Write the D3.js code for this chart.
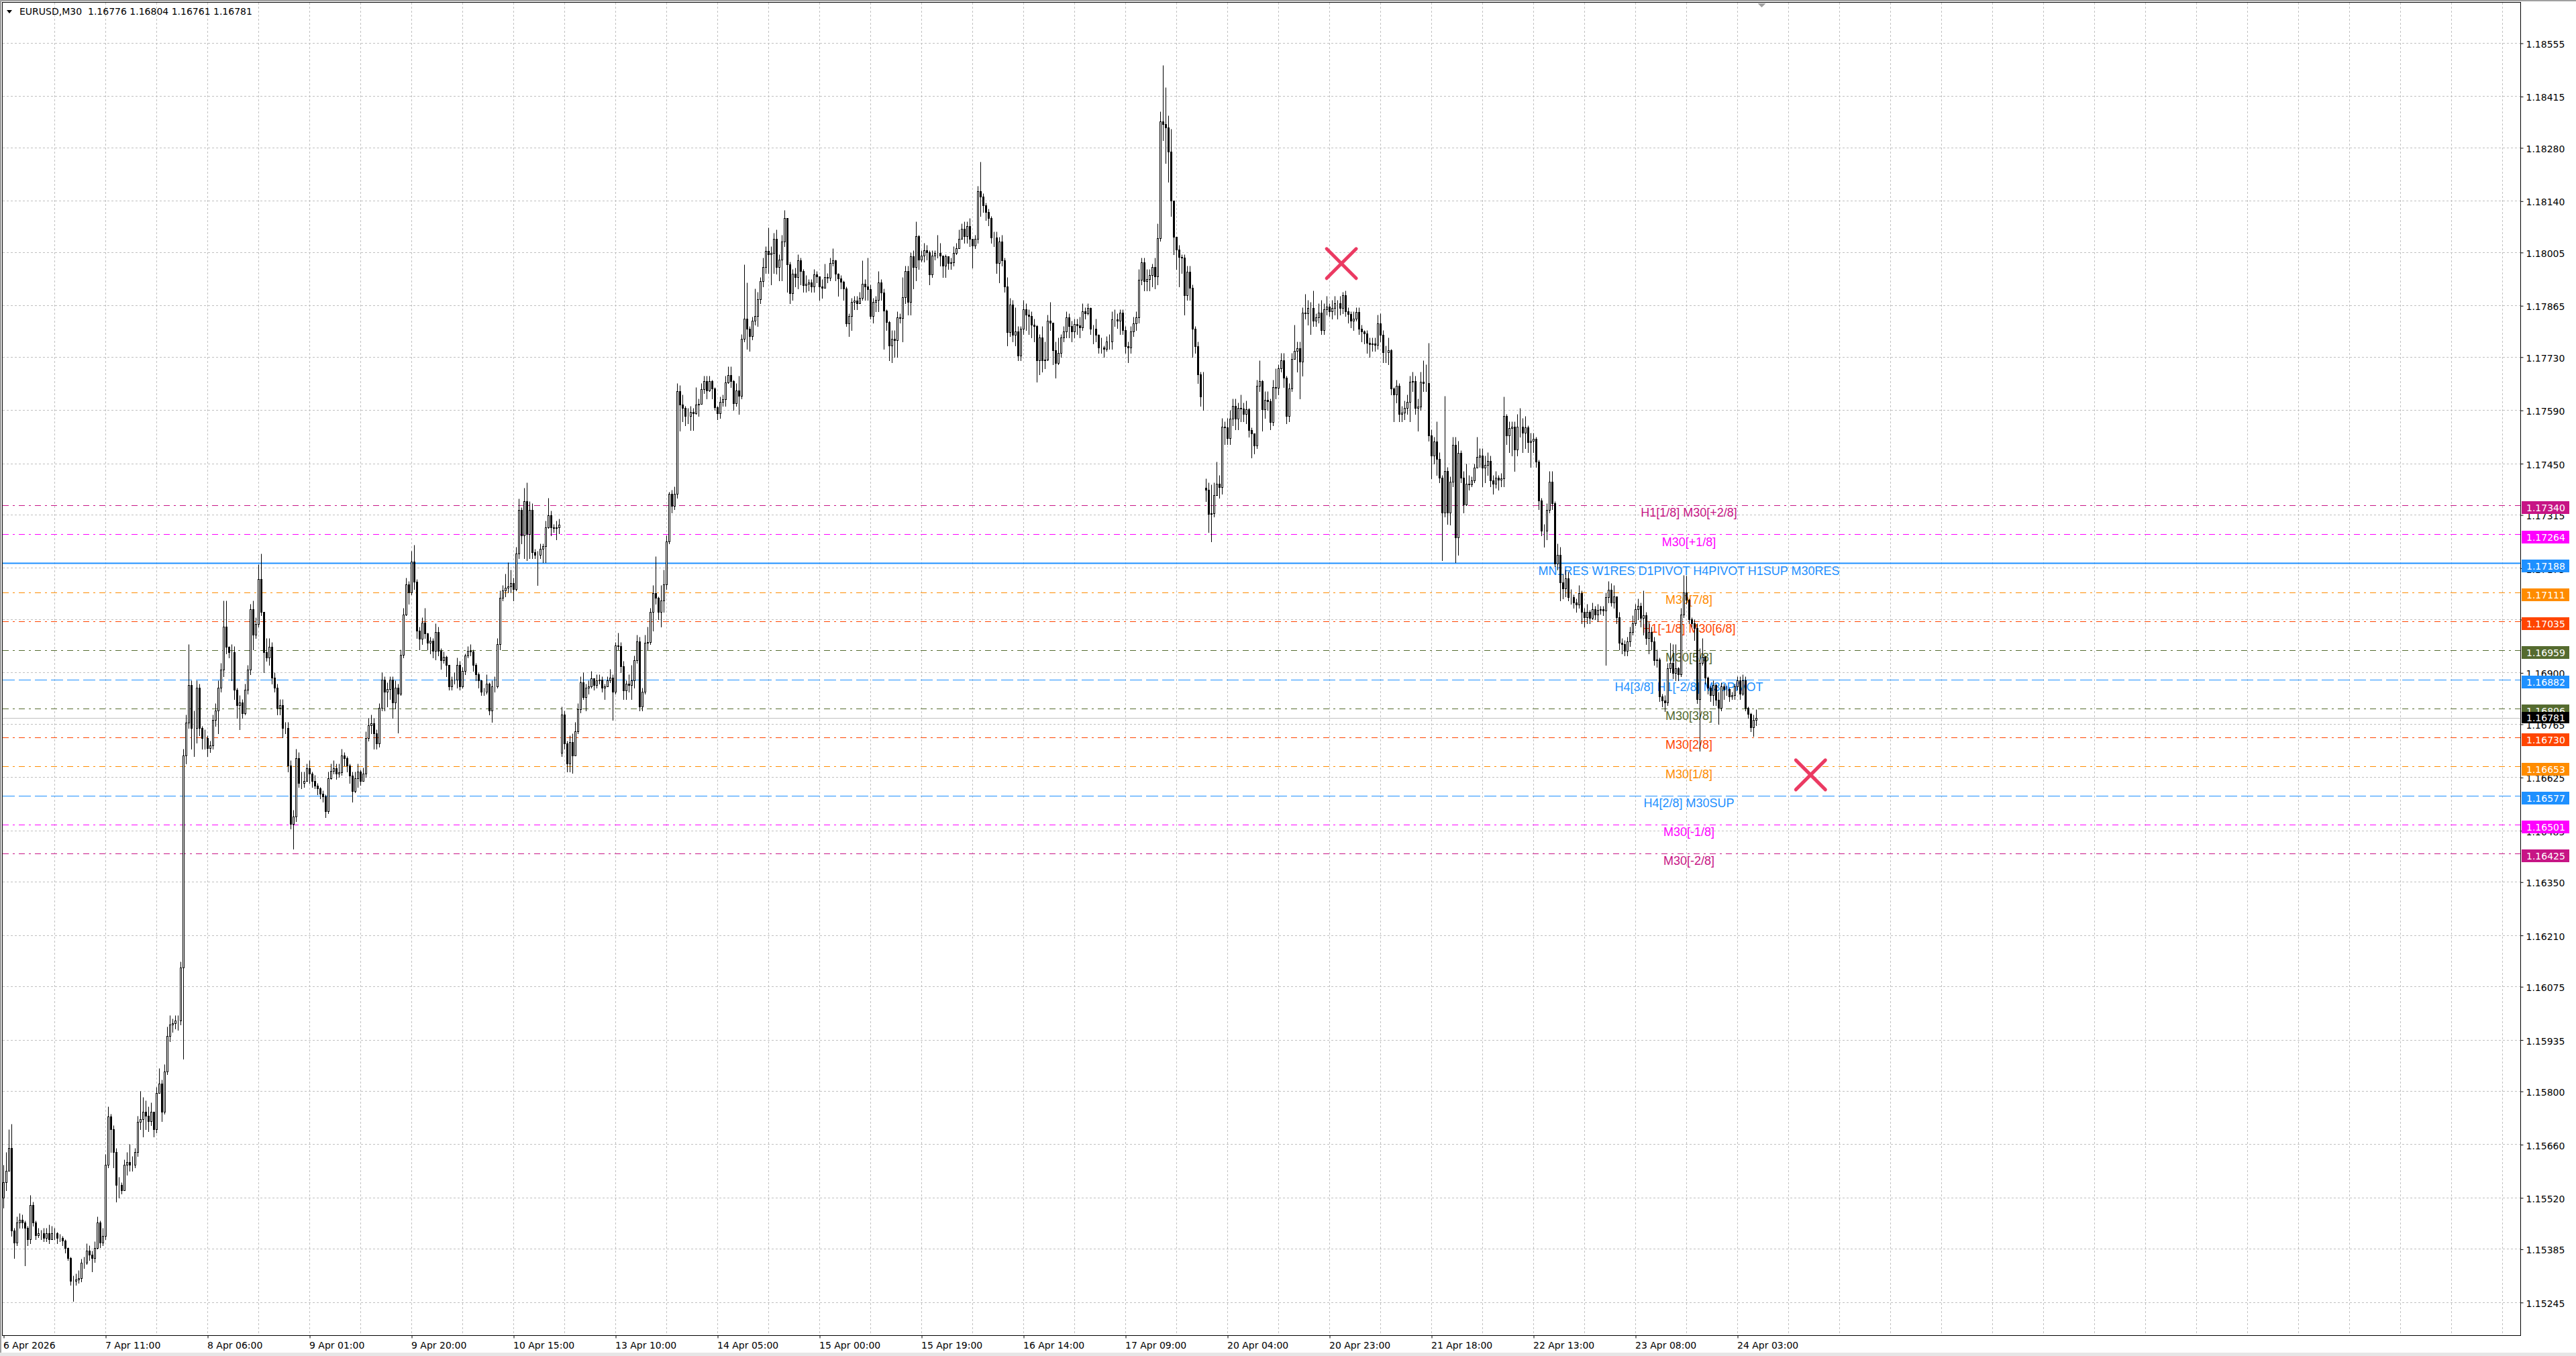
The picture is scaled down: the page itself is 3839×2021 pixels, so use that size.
<!DOCTYPE html>
<html>
<head>
<meta charset="utf-8">
<script src="https://cdn.jsdelivr.net/npm/d3@7"></script>
<style>
  html, body { margin: 0; padding: 0; background: #fff; }
  svg { display: block; }
  .axis text { font-family: "DejaVu Sans", sans-serif; font-size: 14px; fill: #000; }
  .axis line { stroke: #000; }
</style>
</head>
<body>
<svg id="chart"></svg>
<script>
// ---- data -------------------------------------------------------------
const symbol = "EURUSD,M30";
const lastQuote = ["1.16776", "1.16804", "1.16761", "1.16781"];

// M30 bars from 6 Apr 16:00, prices as points above 1.15000
const BASE = 1.15;
const closePts = [
  560,590,650,434,401,454,461,454,441,410,500,454,421,427,427,414,427,410,427,
  427,414,414,407,388,361,301,301,305,308,348,348,381,370,361,388,454,401,420,
  606,733,700,640,553,553,540,606,613,606,606,640,719,726,745,735,720,745,700,
  795,819,746,852,945,975,978,985,985,1124,1682,1768,1867,1755,1755,1861,1755,1728,1728,
  1702,1708,1775,1801,1861,1907,2020,1967,1954,1954,1854,1814,1821,1794,1854,1907,2067,2000,2027,
  2146,2060,1954,1940,1967,1887,1861,1808,1814,1755,1755,1655,1502,1522,1675,1609,1609,1615,1648,
  1635,1615,1602,1595,1582,1575,1536,1622,1642,1648,1635,1638,1682,1675,1655,1629,1589,1622,1640,
  1615,1635,1728,1761,1766,1740,1713,1808,1881,1850,1856,1881,1822,1860,1845,1947,2052,2132,2111,
  2191,2139,2010,1989,2031,2003,1979,1984,1958,2007,1958,1933,1942,1920,1864,1881,1882,1920,1864,
  1905,1944,1958,1955,1920,1895,1880,1850,1850,1870,1801,1863,1864,1975,2097,2115,2123,2127,2135,
  2120,2212,2327,2261,2351,2264,2327,2216,2210,2209,2226,2232,2282,2313,2282,2280,2282,2289,1790,
  1713,1661,1717,1682,1745,1804,1874,1836,1860,1864,1884,1867,1880,1882,1860,1864,1880,1887,1850,
  1972,1970,1916,1853,1871,1867,1880,1933,1982,1811,1849,1979,1980,2059,2108,2097,2059,2090,2132,
  2244,2369,2338,2369,2639,2605,2595,2574,2575,2585,2582,2605,2606,2645,2666,2642,2666,2646,2598,
  2581,2612,2618,2662,2682,2666,2608,2642,2628,2777,2831,2804,2784,2824,2838,2882,2929,2966,3008,
  3000,3003,3040,2966,2986,3033,3094,2973,2898,2949,2939,2983,2956,2919,2922,2925,2915,2946,2942,
  2915,2912,2939,2938,2976,2983,2949,2936,2927,2909,2817,2838,2875,2878,2870,2885,2922,2914,2908,
  2838,2875,2880,2925,2899,2851,2821,2760,2777,2774,2834,2832,2886,2956,2875,2994,2966,3047,2986,
  2996,3010,3004,2947,2996,3003,3003,2996,2969,2994,2976,2979,3003,3016,3040,3067,3047,3074,3040,
  3023,3040,3165,3152,3128,3111,3094,3043,3043,2976,3033,2983,2915,2794,2868,2787,2797,2733,2804,
  2855,2841,2838,2814,2811,2720,2780,2720,2723,2824,2820,2747,2713,2740,2780,2797,2834,2810,2797,
  2816,2812,2808,2850,2845,2858,2804,2804,2788,2754,2754,2750,2771,2770,2829,2829,2825,2846,2800,
  2758,2754,2796,2817,2833,2933,2979,2929,2935,2944,2966,2941,3041,3349,3341,3333,3270,3141,3046,
  3012,2992,2991,2892,2954,2912,2804,2758,2684,2625,2625,2380,2317,2318,2367,2396,2388,2546,2544,
  2517,2567,2600,2567,2596,2593,2580,2592,2538,2529,2496,2654,2667,2592,2617,2613,2559,2650,2648,
  2700,2721,2675,2575,2646,2725,2746,2752,2717,2846,2845,2858,2858,2825,2833,2846,2800,2854,2862,
  2850,2858,2871,2871,2858,2892,2850,2842,2825,2831,2848,2804,2796,2792,2767,2763,2765,2761,2817,
  2788,2742,2742,2748,2646,2630,2654,2580,2583,2596,2612,2664,2666,2596,2599,2664,2660,2660,2523,
  2470,2507,2462,2413,2320,2430,2320,2401,2498,2256,2478,2413,2341,2397,2395,2405,2438,2466,2470,
  2438,2446,2456,2405,2396,2413,2406,2410,2575,2523,2543,2547,2486,2547,2547,2531,2544,2506,2510,
  2515,2454,2353,2272,2272,2328,2401,2345,2187,2209,2137,2121,2147,2098,2098,2085,2079,2108,2059,
  2046,2059,2043,2066,2053,2064,2066,2063,2098,2118,2084,2100,2046,1978,1974,1958,1981,2007,2030,
  2066,2075,2043,2050,1990,2007,1981,1932,1935,1837,1826,1821,1912,1925,1899,1912,1895,2053,2111,
  2092,2040,2030,2017,1831,1925,1942,1886,1860,1841,1867,1828,1808,1863,1857,1857,1837,1841,1863,
  1880,1844,1880,1808,1792,1756,1776,1781
];
const highPts = [
  606,640,700,713,440,470,480,475,460,445,527,510,460,440,435,440,440,450,445,
  440,430,425,420,410,390,365,315,320,330,360,365,400,395,380,405,470,460,440,
  635,760,740,710,650,575,560,620,640,660,630,650,735,800,785,775,760,770,745,
  810,860,830,870,970,1000,990,1000,1000,1140,1700,1790,1974,1880,1800,1880,1870,1760,1750,
  1735,1720,1790,1820,1880,1925,2090,2090,1970,1975,1970,1860,1840,1830,1870,1920,2080,2090,2045,
  2185,2213,2060,1990,1990,1980,1900,1870,1830,1830,1770,1770,1670,1540,1700,1690,1640,1640,1660,
  1670,1640,1630,1610,1600,1590,1580,1640,1660,1670,1660,1660,1700,1690,1680,1660,1640,1640,1660,
  1645,1650,1745,1780,1790,1780,1750,1820,1900,1890,1875,1890,1890,1880,1870,1960,2070,2150,2140,
  2220,2235,2145,2020,2045,2070,2005,1995,1990,2030,2020,1965,1955,1945,1910,1890,1900,1940,1930,
  1915,1950,1970,1975,1960,1925,1900,1880,1860,1895,1875,1880,1890,1990,2115,2130,2160,2190,2170,
  2150,2230,2358,2335,2385,2400,2350,2345,2225,2220,2240,2240,2300,2360,2325,2290,2300,2305,1810,
  1800,1720,1735,1740,1770,1820,1890,1900,1870,1880,1905,1885,1895,1895,1890,1870,1890,1910,1895,
  1980,2005,1980,1930,1880,1895,1920,1945,2000,1995,1860,2000,2020,2070,2130,2205,2100,2130,2170,
  2260,2375,2380,2390,2660,2655,2630,2600,2595,2600,2595,2650,2620,2660,2680,2680,2680,2670,2650,
  2600,2625,2630,2680,2705,2705,2670,2660,2680,2790,2973,2925,2810,2835,2910,2900,2940,2990,3020,
  3070,3020,3056,3065,3000,3050,3115,3090,2980,2960,2965,3000,2990,2960,2945,2935,2935,2960,2955,
  2935,2935,2975,2950,2990,3015,2985,2950,2945,2930,2915,2845,2885,2890,2890,2900,2983,2935,2990,
  2920,2885,2890,2955,2935,2910,2855,2825,2800,2800,2850,2845,2940,2970,2970,3005,3010,3085,3050,
  3010,3030,3025,3010,3010,3010,3050,3030,2990,3000,2995,2990,3020,3030,3065,3080,3085,3085,3095,
  3040,3050,3180,3243,3160,3135,3120,3100,3060,3060,3045,3050,2990,2940,2885,2880,2860,2810,2810,
  2880,2870,2855,2850,2830,2815,2790,2810,2770,2840,2875,2820,2770,2780,2790,2810,2850,2845,2825,
  2830,2830,2835,2870,2860,2870,2860,2815,2830,2790,2780,2760,2785,2790,2850,2855,2845,2855,2855,
  2810,2770,2810,2835,2850,2960,2990,2990,2960,2960,2975,2990,3080,3375,3497,3438,3364,3330,3110,
  3030,3025,3000,3000,2970,2970,2920,2810,2770,2690,2690,2410,2400,2395,2400,2455,2420,2570,2560,
  2570,2590,2620,2620,2610,2630,2610,2615,2595,2545,2520,2670,2720,2670,2640,2640,2620,2670,2700,
  2710,2740,2740,2680,2660,2740,2815,2770,2770,2860,2895,2880,2875,2905,2845,2870,2880,2870,2890,
  2870,2880,2890,2880,2890,2900,2905,2860,2850,2850,2860,2860,2815,2800,2800,2780,2780,2780,2840,
  2845,2800,2760,2780,2750,2650,2670,2660,2600,2615,2630,2680,2690,2680,2620,2690,2720,2710,2766,
  2540,2520,2560,2480,2420,2628,2440,2415,2520,2520,2510,2485,2430,2450,2420,2415,2450,2520,2490,
  2490,2470,2480,2470,2420,2430,2420,2425,2625,2580,2560,2560,2560,2580,2595,2570,2575,2550,2530,
  2530,2520,2460,2360,2290,2345,2430,2430,2350,2240,2230,2160,2170,2165,2120,2105,2095,2130,2115,
  2070,2080,2065,2085,2075,2080,2075,2075,2110,2140,2136,2130,2100,2060,1990,1985,1995,2020,2050,
  2080,2095,2085,2115,2060,2035,2020,1995,1960,1940,1845,1840,1925,1978,1975,1975,1915,2070,2157,
  2155,2095,2045,2040,2030,1965,1991,1945,1890,1865,1880,1870,1850,1875,1870,1865,1860,1850,1870,
  1890,1890,1895,1890,1810,1795,1790,1804
];
const lowPts = [
  494,540,590,420,361,395,440,440,341,395,400,445,410,415,410,405,405,400,415,
  410,400,405,395,375,355,290,248,290,295,300,335,345,355,325,350,385,390,395,
  410,600,640,600,510,520,530,540,580,590,590,600,630,700,680,700,695,710,680,
  690,800,720,740,845,930,955,965,960,975,885,1660,1755,1700,1680,1715,1735,1700,1700,
  1680,1690,1700,1760,1740,1850,1890,1950,1940,1880,1830,1780,1750,1780,1790,1845,1895,1960,1990,
  2020,2050,1900,1930,1920,1870,1850,1790,1790,1730,1740,1640,1490,1436,1510,1600,1595,1600,1615,
  1610,1600,1595,1580,1570,1560,1520,1530,1620,1635,1620,1625,1630,1655,1640,1610,1560,1585,1600,
  1605,1620,1625,1720,1740,1700,1700,1705,1800,1800,1810,1830,1780,1805,1742,1840,1940,2050,2080,
  2105,2120,1990,1960,1975,1990,1960,1950,1940,1935,1945,1910,1925,1890,1855,1855,1870,1860,1855,
  1860,1895,1940,1945,1905,1880,1860,1840,1840,1845,1790,1770,1850,1860,1960,2090,2100,2110,2110,
  2090,2115,2200,2240,2200,2195,2200,2200,2200,2130,2200,2190,2190,2280,2260,2270,2250,2265,1680,
  1700,1640,1640,1637,1685,1740,1795,1830,1800,1845,1860,1855,1860,1870,1850,1830,1865,1875,1775,
  1845,1960,1900,1830,1830,1850,1830,1860,1925,1800,1800,1845,1960,1975,2010,2080,2040,2020,2060,
  2120,2240,2320,2330,2360,2535,2560,2550,2555,2537,2537,2580,2575,2610,2635,2620,2640,2620,2590,
  2565,2570,2600,2600,2660,2650,2590,2600,2580,2620,2770,2750,2745,2775,2815,2810,2870,2915,2950,
  2950,2920,2950,2948,2930,2930,3020,2900,2870,2880,2915,2910,2920,2900,2900,2905,2900,2900,2925,
  2880,2885,2920,2925,2930,2970,2930,2890,2910,2880,2810,2785,2800,2855,2855,2870,2880,2880,2880,
  2830,2820,2850,2850,2880,2750,2800,2720,2715,2730,2730,2820,2770,2870,2840,2840,2910,2930,2960,
  2980,2980,2985,2920,2940,2985,2990,2970,2940,2940,2960,2960,2970,3000,3020,3040,3030,3030,3020,
  2965,3015,3030,3100,3110,3090,3075,3030,3020,2950,2925,2970,2900,2760,2785,2770,2760,2720,2720,
  2790,2800,2790,2780,2770,2665,2684,2690,2700,2720,2800,2710,2675,2710,2730,2770,2780,2780,2770,
  2780,2790,2780,2800,2830,2840,2790,2765,2770,2740,2740,2730,2745,2750,2750,2810,2805,2790,2790,
  2740,2715,2740,2785,2800,2820,2920,2905,2905,2905,2915,2910,2920,3035,3300,3240,3190,3100,3000,
  2960,2915,2950,2840,2880,2880,2730,2740,2660,2600,2590,2350,2270,2245,2310,2370,2360,2370,2500,
  2500,2500,2550,2540,2540,2560,2560,2555,2520,2465,2475,2490,2640,2535,2570,2590,2540,2550,2620,
  2630,2690,2650,2555,2560,2640,2730,2690,2620,2680,2830,2815,2790,2810,2810,2820,2790,2790,2840,
  2838,2830,2840,2830,2840,2845,2838,2820,2808,2800,2825,2790,2770,2765,2740,2730,2745,2745,2750,
  2770,2715,2715,2710,2630,2560,2610,2560,2560,2565,2580,2560,2640,2580,2535,2590,2640,2640,2510,
  2410,2450,2420,2400,2195,2310,2290,2288,2390,2190,2210,2400,2320,2340,2380,2390,2400,2440,2440,
  2390,2400,2420,2390,2370,2385,2380,2390,2390,2500,2480,2470,2430,2470,2520,2480,2490,2480,2440,
  2480,2440,2330,2260,2230,2250,2320,2330,2180,2170,2090,2095,2100,2090,2080,2070,2060,2070,2030,
  2020,2030,2030,2040,2040,2035,2055,2050,1920,2085,2075,2070,2030,1960,1950,1945,1945,1970,2000,
  2025,2040,2020,2000,1975,1950,1960,1920,1915,1825,1810,1798,1815,1900,1885,1880,1880,1890,2045,
  2080,2030,2020,1985,1820,1694,1920,1870,1845,1825,1815,1815,1765,1800,1830,1840,1825,1830,1830,
  1855,1830,1840,1800,1780,1745,1733,1761
];
// bars whose open is not the previous close (first bar, weekend gaps)
const sessionOpenBars = [0, 208, 448];
const sessionOpenPts = [520, 1689, 2385];

const priceTicks = [
  1.18555, 1.18415, 1.18280, 1.18140, 1.18005, 1.17865, 1.17730, 1.17590, 1.17450,
  1.17315, 1.17175, 1.17040, 1.16900, 1.16765, 1.16625, 1.16485, 1.16350, 1.16210,
  1.16075, 1.15935, 1.15800, 1.15660, 1.15520, 1.15385, 1.15245
];
// one label every 38 bars
const timeLabels = [
  "6 Apr 2026", "7 Apr 11:00", "8 Apr 06:00", "9 Apr 01:00", "9 Apr 20:00", "10 Apr 15:00",
  "13 Apr 10:00", "14 Apr 05:00", "15 Apr 00:00", "15 Apr 19:00", "16 Apr 14:00", "17 Apr 09:00",
  "20 Apr 04:00", "20 Apr 23:00", "21 Apr 18:00", "22 Apr 13:00", "23 Apr 08:00", "24 Apr 03:00"
];

const levelPrices = [1.17340, 1.17264, 1.17188, 1.17111, 1.17035, 1.16959, 1.16882,
                     1.16806, 1.16730, 1.16653, 1.16577, 1.16501, 1.16425];
const levelNames = [
  "H1[1/8] M30[+2/8]", "M30[+1/8]", "MN1RES W1RES D1PIVOT H4PIVOT H1SUP M30RES",
  "M30[7/8]", "H1[-1/8] M30[6/8]", "M30[5/8]", "H4[3/8] H1[-2/8] M30PIVOT",
  "M30[3/8]", "M30[2/8]", "M30[1/8]", "H4[2/8] M30SUP", "M30[-1/8]", "M30[-2/8]"
];
const bidPrice = 1.16781;

const crossBars = [498.4, 673.2];
const crossPrices = [1.17976, 1.16632];

// ---- styles -----------------------------------------------------------
const levelColors = ["#C71585", "#FF00FF", "#1E90FF", "#FF8C00", "#FF4500", "#556B2F", "#1E90FF",
                     "#556B2F", "#FF4500", "#FF8C00", "#1E90FF", "#FF00FF", "#C71585"];
const levelKinds = ["dashdot", "dashdot", "solid", "dashdot", "dashdot", "dashdot", "dash",
                    "dashdot", "dashdot", "dashdot", "dash", "dashdot", "dashdot"];
const dashFor = {dashdot: "9,6,3,6", dash: "18,6", solid: null};

// ---- layout -----------------------------------------------------------
const width = 3839, height = 2021;
const plotLeft = 4, plotRight = 3756, plotTop = 4, plotBottom = 1990;
const barStep = 4;
const labelX = 2517;

const svg = d3.select("#chart").attr("width", width).attr("height", height);

const x = d3.scaleLinear().domain([0, 1]).range([5.5, 5.5 + barStep]);
const y = d3.scaleLinear().domain([1.15245, 1.18555]).range([1941.3, 64.5]);
const crisp = v => Math.round(v - 0.5) + 0.5;
const pt = v => BASE + v / 1e5;

const bars = closePts.map((c, i) => {
  const k = sessionOpenBars.indexOf(i);
  const o = k >= 0 ? sessionOpenPts[k] : closePts[i - 1];
  return {
    i: i,
    o: pt(o),
    c: pt(c),
    h: pt(Math.max(highPts[i], o, c)),
    l: pt(Math.min(lowPts[i], o, c))
  };
});

// window frame
svg.append("rect").attr("width", width).attr("height", height).attr("fill", "#fff");
svg.append("rect").attr("x", 0).attr("y", 0).attr("width", width).attr("height", 2).attr("fill", "#a0a0a0");
svg.append("rect").attr("x", 0).attr("y", 0).attr("width", 2).attr("height", height).attr("fill", "#a0a0a0");
svg.append("rect").attr("x", 0).attr("y", 2016).attr("width", width).attr("height", 5).attr("fill", "#e6e6e6");

// grid
const grid = svg.append("g")
  .attr("stroke", "#c0c0c0")
  .attr("stroke-width", 1)
  .attr("stroke-dasharray", "3,3");

grid.selectAll(".hgrid")
  .data(priceTicks)
  .join("line")
  .attr("class", "hgrid")
  .attr("x1", plotLeft).attr("x2", plotRight)
  .attr("y1", d => crisp(y(d))).attr("y2", d => crisp(y(d)));

const lastGridBar = Math.floor((plotRight - 8) / barStep);
grid.selectAll(".vgrid")
  .data(d3.range(19, lastGridBar, 19))
  .join("line")
  .attr("class", "vgrid")
  .attr("x1", d => x(d)).attr("x2", d => x(d))
  .attr("y1", plotTop).attr("y2", plotBottom);

// level lines
const levels = levelPrices.map((p, i) => ({p: p, name: levelNames[i], color: levelColors[i], kind: levelKinds[i]}));

svg.append("g")
  .selectAll("line")
  .data(levels)
  .join("line")
  .attr("x1", plotLeft).attr("x2", plotRight)
  .attr("y1", d => crisp(y(d.p))).attr("y2", d => crisp(y(d.p)))
  .attr("stroke", d => d.color)
  .attr("stroke-width", d => d.kind === "solid" ? 2 : 1)
  .attr("stroke-dasharray", d => dashFor[d.kind]);

// bid line
svg.append("line")
  .attr("x1", plotLeft).attr("x2", plotRight)
  .attr("y1", crisp(y(bidPrice))).attr("y2", crisp(y(bidPrice)))
  .attr("stroke", "#c0c0c0").attr("stroke-width", 1);

// level names
svg.append("g")
  .selectAll("text")
  .data(levels)
  .join("text")
  .attr("x", labelX)
  .attr("y", d => y(d.p) + 17)
  .attr("text-anchor", "middle")
  .attr("font-family", "'Liberation Sans', Arial, sans-serif")
  .attr("font-size", 18)
  .attr("fill", d => d.color)
  .text(d => d.name);

// candles
const candle = svg.append("g")
  .selectAll("g")
  .data(bars)
  .join("g");

candle.append("line")
  .attr("x1", d => x(d.i)).attr("x2", d => x(d.i))
  .attr("y1", d => crisp(y(d.h))).attr("y2", d => crisp(y(d.l)) + 0.5)
  .attr("stroke", "#000").attr("stroke-width", 1);

candle.append("rect")
  .attr("x", d => x(d.i) - 1)
  .attr("width", 2)
  .attr("y", d => crisp(y(Math.max(d.o, d.c))))
  .attr("height", d => Math.max(0, crisp(y(Math.min(d.o, d.c))) - crisp(y(Math.max(d.o, d.c)))))
  .attr("fill", d => d.c > d.o ? "#fff" : "#000")
  .attr("stroke", "#000").attr("stroke-width", 1);

// crosses
svg.append("g")
  .attr("stroke", "#EB3A62")
  .attr("stroke-width", 5)
  .attr("stroke-linecap", "round")
  .selectAll("path")
  .data(crossBars.map((b, i) => ({b: b, p: crossPrices[i]})))
  .join("path")
  .attr("d", d => {
    const cx = x(d.b), cy = y(d.p), r = 22;
    return `M${cx - r},${cy - r}L${cx + r},${cy + r}M${cx + r},${cy - r}L${cx - r},${cy + r}`;
  });

// plot frame
svg.append("rect")
  .attr("x", plotLeft - 0.5).attr("y", plotTop - 0.5)
  .attr("width", plotRight - plotLeft + 1).attr("height", plotBottom - plotTop + 1)
  .attr("fill", "none").attr("stroke", "#000").attr("stroke-width", 1);

// chart shift marker
const shiftX = x(655);
svg.append("path")
  .attr("d", `M${shiftX - 6},${plotTop + 1}L${shiftX + 6},${plotTop + 1}L${shiftX},${plotTop + 7}Z`)
  .attr("fill", "#a0a0a0");

// price axis
const yAxis = svg.append("g")
  .attr("class", "axis")
  .attr("transform", `translate(${plotRight + 0.5},0)`)
  .call(d3.axisRight(y).tickValues(priceTicks).tickSize(4).tickPadding(4)
    .tickFormat(d => d.toFixed(5)));
yAxis.select(".domain").remove();
yAxis.selectAll("text").attr("dy", "0.43em");

// time axis
const labelBars = timeLabels.map((t, i) => i * 38);
const xAxis = svg.append("g")
  .attr("class", "axis")
  .attr("transform", `translate(0,${plotBottom + 0.5})`)
  .call(d3.axisBottom(x).tickValues(labelBars).tickSize(4).tickPadding(6)
    .tickFormat((d, i) => timeLabels[i]));
xAxis.select(".domain").remove();
xAxis.selectAll("text").attr("text-anchor", "start").attr("dx", -1);

// level price boxes on the axis
const boxes = svg.append("g").selectAll("g").data(levels).join("g")
  .attr("transform", d => `translate(${plotRight + 2},${Math.round(y(d.p)) - 6})`);
boxes.append("rect").attr("width", 71).attr("height", 19).attr("fill", d => d.color);
boxes.append("text")
  .attr("x", 7).attr("y", 15)
  .attr("font-family", "'DejaVu Sans', sans-serif").attr("font-size", 14)
  .attr("fill", "#fff")
  .text(d => d.p.toFixed(5));

const bid = svg.append("g").attr("transform", `translate(${plotRight + 2},${Math.round(y(bidPrice)) - 9})`);
bid.append("rect").attr("width", 71).attr("height", 17).attr("fill", "#000");
bid.append("text")
  .attr("x", 7).attr("y", 14)
  .attr("font-family", "'DejaVu Sans', sans-serif").attr("font-size", 14)
  .attr("fill", "#fff")
  .text(bidPrice.toFixed(5));

// header
svg.append("path").attr("d", "M10,15L18,15L14,20Z").attr("fill", "#000");
svg.append("text")
  .attr("x", 29).attr("y", 22)
  .attr("font-family", "'DejaVu Sans', sans-serif").attr("font-size", 14)
  .attr("fill", "#000")
  .attr("xml:space", "preserve")
  .text(symbol + "  " + lastQuote.join(" "));
</script>
</body>
</html>
